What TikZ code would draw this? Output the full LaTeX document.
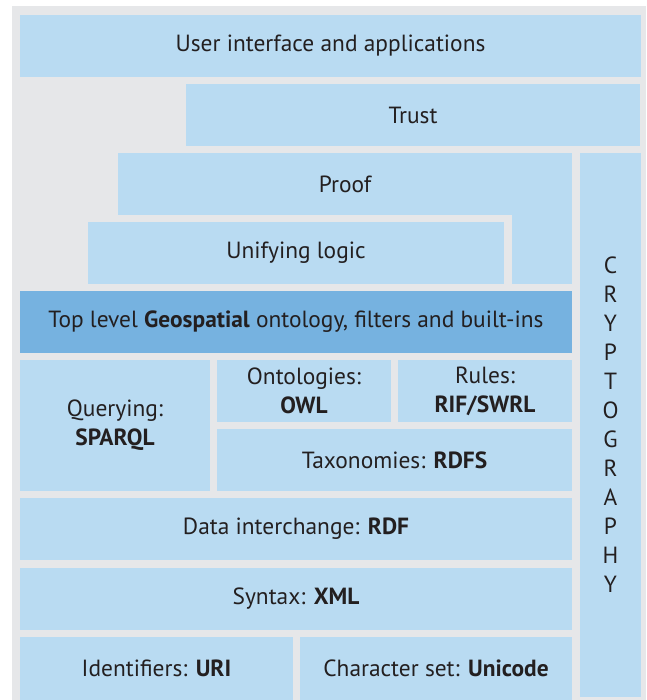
\documentclass[tikz,border=0pt]{standalone}
\usepackage{fontspec}
\setmainfont{PT Sans}
\usepackage{tikz}
\usetikzlibrary{positioning}
\definecolor{bggrey}{RGB}{230,231,233}
\definecolor{layerblue}{RGB}{185,219,242}
\definecolor{geoblue}{RGB}{118,178,224}
\definecolor{inkgrey}{RGB}{35,31,32}
\tikzset{ layer/.style = {fill=layerblue, text=inkgrey, inner sep=0pt, outer sep=0pt, anchor=north west, align=center, font=\fontsize{23.4}{29}\selectfont} }

\begin{document}
\begin{tikzpicture}[x=1pt, y=-1pt]
  \useasboundingbox (0,0) rectangle (646,700);
  \fill[bggrey] (12,6) rectangle (646,700);

  \path (20,15) node[layer, minimum width=621, minimum height=62] (ui) {User interface and applications}
      ++(166,69) node[layer, minimum width=454, minimum height=62] (trust) {Trust}
      ++(-68,69) node[layer, minimum width=454, minimum height=62] (proof) {Proof}
      ++(-30,69) node[layer, minimum width=416, minimum height=62] (logic) {Unifying logic}
      ++(-68,69) node[layer, minimum width=552, minimum height=62, fill=geoblue] (geo) {Top level \textbf{Geospatial} ontology, filters and built-ins}
      ++(0,69) node[layer, minimum width=190, minimum height=131] (query) {Querying:\\\textbf{SPARQL}}
      ++(0,138) node[layer, minimum width=552, minimum height=62] (rdf) {Data interchange: \textbf{RDF}}
      ++(0,70) node[layer, minimum width=552, minimum height=62] (xml) {Syntax: \textbf{XML}}
      ++(0,69) node[layer, minimum width=273, minimum height=63] (uri) {Identifiers: \textbf{URI}}
      ++(280,0) node[layer, minimum width=272, minimum height=63] (uni) {Character set: \textbf{Unicode}};

  \path (217,360) node[layer, minimum width=174, minimum height=62] (owl) {Ontologies:\\\textbf{OWL}}
      ++(181,0) node[layer, minimum width=174, minimum height=62] (rules) {Rules:\\\textbf{RIF/SWRL}}
      ++(-181,69) node[layer, minimum width=355, minimum height=62] (rdfs) {Taxonomies: \textbf{RDFS}};

  \node[layer, minimum width=61, minimum height=544] (crypto) at (580,153) {C\\R\\Y\\P\\T\\O\\G\\R\\A\\P\\H\\Y};

  % proof reaches down beside unifying logic
  \fill[layerblue] (proof.south east) rectangle ++(-60,69);
\end{tikzpicture}
\end{document}
